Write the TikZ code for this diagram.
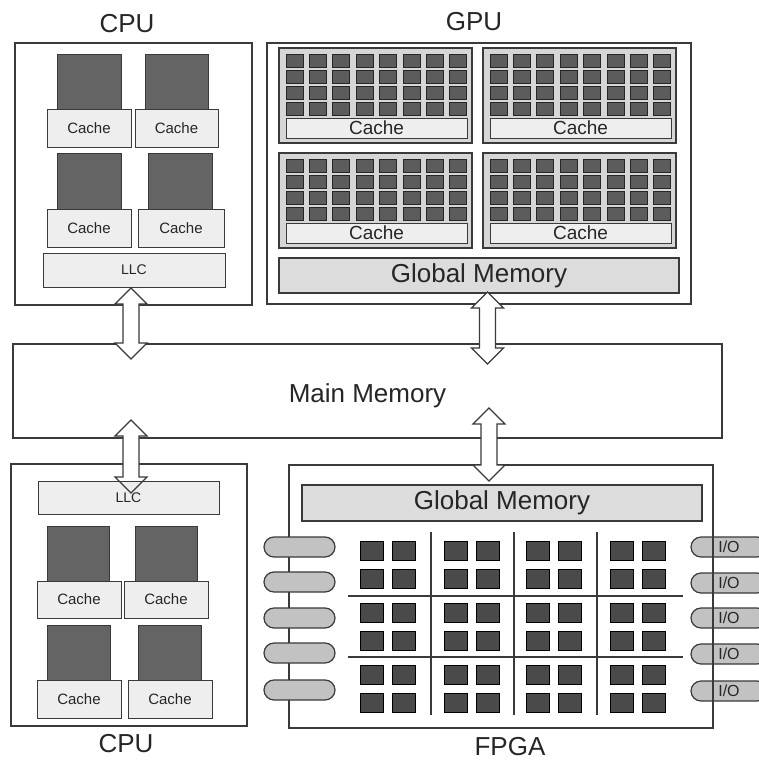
\documentclass[tikz,border=0pt]{standalone}
\usepackage{fontspec}
\setmainfont{Liberation Sans}
\definecolor{ln}{HTML}{3A3A3A}
\definecolor{corecol}{HTML}{646464}
\definecolor{cachecol}{HTML}{EEEEEE}
\definecolor{smcol}{HTML}{D6D6D6}
\definecolor{gcellcol}{HTML}{5C5C5C}
\definecolor{gmemcol}{HTML}{DCDCDC}
\definecolor{fcellcol}{HTML}{4A4A4A}
\definecolor{pillcol}{HTML}{C2C2C2}
\newcommand\rb[7]{\node[#2, minimum width={(#5)-(#3)}, minimum height={(#6)-(#4)}] (#1) at ({((#3)+(#5))/2},{((#4)+(#6))/2}) {#7};}
\newcommand\darpath[3]{({#1},{#2}) -- ({#1+16},{#2+16}) -- ({#1+8},{#2+16}) -- ({#1+8},{#3-16}) -- ({#1+16},{#3-16}) -- ({#1},{#3}) -- ({#1-16},{#3-16}) -- ({#1-8},{#3-16}) -- ({#1-8},{#2+16}) -- ({#1-16},{#2+16}) -- cycle}
\newcommand\smblock[3]{%
  \rb{#1}{smbox}{#2}{#3}{#2+193}{#3+95}{}
  \foreach \i in {0,...,7}{\foreach \j in {0,...,3}{%
    \rb{#1c\i\j}{gcell}{#2+7+\i*23.4}{#3+6+\j*16}{#2+24+\i*23.4}{#3+19+\j*16}{}}}
  \rb{#1k}{gcache}{#2+7}{#3+70}{#2+188}{#3+90}{Cache}}
\begin{document}
\begin{tikzpicture}[x=1pt,y=-1pt,
  every node/.style={inner sep=0pt, outer sep=0pt, text=black!85},
  outer/.style={draw=ln, line width=1.3pt, rectangle},
  core/.style={draw=ln, line width=1pt, fill=corecol, rectangle},
  cache/.style={draw=ln, line width=1pt, fill=cachecol, rectangle, font=\fontsize{15}{18}\selectfont},
  llc/.style={draw=ln, line width=1pt, fill=cachecol, rectangle, font=\fontsize{14}{17}\selectfont},
  smbox/.style={draw=ln, line width=1.2pt, fill=smcol, rectangle},
  gcell/.style={draw=black!85, line width=1pt, fill=gcellcol, rectangle},
  gcache/.style={draw=ln, line width=1pt, fill=cachecol, rectangle, font=\fontsize{19}{22}\selectfont},
  gmem/.style={draw=ln, line width=1.2pt, fill=gmemcol, rectangle, font=\fontsize{26}{30}\selectfont},
  fcell/.style={draw=black, line width=1pt, fill=fcellcol, rectangle},
  pill/.style={draw=ln, line width=1.2pt, fill=pillcol, rectangle, rounded corners=10pt, font=\fontsize{16}{19}\selectfont},
  biglabel/.style={font=\fontsize{26}{30}\selectfont},
  arr/.style={draw=ln, line width=1.2pt, fill=white, line join=miter}]
\useasboundingbox (0,0) rectangle (759,763);
\clip (0,0) rectangle (759,763);
\fill[white] (0,0) rectangle (759,763);

% ---------- top CPU ----------
\node[biglabel, anchor=base] (cpuT) at (127,32) {CPU};
\rb{cpu1}{outer}{15}{43}{252}{305}{}
\rb{c1a}{core}{57}{54}{121}{109}{}
\rb{c1ak}{cache}{47}{109}{131}{147}{Cache}
\rb{c1b}{core}{145}{54}{208}{109}{}
\rb{c1bk}{cache}{135}{109}{218}{147}{Cache}
\rb{c1c}{core}{57}{153}{121}{209}{}
\rb{c1ck}{cache}{47}{209}{131}{247}{Cache}
\rb{c1d}{core}{148}{153}{212}{209}{}
\rb{c1dk}{cache}{138}{209}{224}{247}{Cache}
\rb{llc1}{llc}{43}{253}{225}{287}{LLC}

% ---------- GPU ----------
\node[biglabel, anchor=base] (gpuT) at (474,30) {GPU};
\rb{gpu}{outer}{267}{43}{691}{304}{}
\smblock{smA}{279}{48}
\smblock{smB}{483}{48}
\smblock{smC}{279}{153}
\smblock{smD}{483}{153}
\rb{gmem1}{gmem}{279}{258}{679}{293}{Global Memory}

% ---------- Main memory ----------
\rb{mm}{outer}{13}{344}{722}{438}{}
\node[biglabel, anchor=base] (mmT) at (367.5,402) {Main Memory};

% ---------- bottom CPU ----------
\rb{cpu2}{outer}{11}{464}{247}{726}{}
\rb{c2a}{core}{47}{526}{109}{581}{}
\rb{c2ak}{cache}{37}{581}{121}{618}{Cache}
\rb{c2b}{core}{135}{526}{197}{581}{}
\rb{c2bk}{cache}{124}{581}{208}{618}{Cache}
\rb{c2c}{core}{47}{625}{110}{680}{}
\rb{c2ck}{cache}{37}{680}{121}{718}{Cache}
\rb{c2d}{core}{138}{625}{201}{680}{}
\rb{c2dk}{cache}{128}{680}{212}{718}{Cache}
\node[biglabel, anchor=base] (cpuB) at (126,752) {CPU};

% ---------- FPGA ----------
\foreach \k/\y in {1/547,2/583,3/618,4/654,5/691}{
  \rb{ior\k}{pill}{691}{\y-10}{767}{\y+10}{\hspace*{-0pt}}
  \node[font=\fontsize{16}{19}\selectfont] (iot\k) at (729,\y) {I/O};
}
\rb{fpga}{outer}{289}{465}{713}{728}{}
\foreach \k/\y in {1/547,2/582,3/618,4/653,5/690}{
  \rb{iol\k}{pill}{264}{\y-10}{335}{\y+10}{}
}
\rb{gmem2}{gmem}{302}{485}{702}{521}{Global Memory}
\foreach \v in {431,514,597}{\draw[ln, line width=1.2pt] (\v,532) -- (\v,715);}
\foreach \h in {596,657}{\draw[ln, line width=1.2pt] (348,\h) -- (683,\h);}
\foreach \bx [count=\bi] in {360,444,526,610}{
  \foreach \by [count=\bj] in {541,603,665}{
    \foreach \dx [count=\ci] in {0,32}{
      \foreach \dy [count=\cj] in {0,28.5}{
        \rb{f\bi\bj\ci\cj}{fcell}{\bx+\dx}{\by+\dy}{\bx+\dx+23}{\by+\dy+19}{}
      }}}}
\node[biglabel, anchor=base] (fpgaT) at (510,755) {FPGA};

% ---------- arrows ----------
\draw[arr] \darpath{131}{288}{359};
\draw[arr] \darpath{487.5}{292}{364};
\draw[arr] \darpath{489}{408}{481};
\draw[arr] \darpath{131}{420}{493};
\rb{llc2}{llc}{38}{481}{219}{514}{}
\begin{scope}
  \clip (38,481) rectangle (219,514);
  \draw[arr, fill=none] \darpath{131}{420}{493};
\end{scope}
\node[font=\fontsize{14}{17}\selectfont] (llc2t) at (llc2.center) {LLC};
\end{tikzpicture}
\end{document}
